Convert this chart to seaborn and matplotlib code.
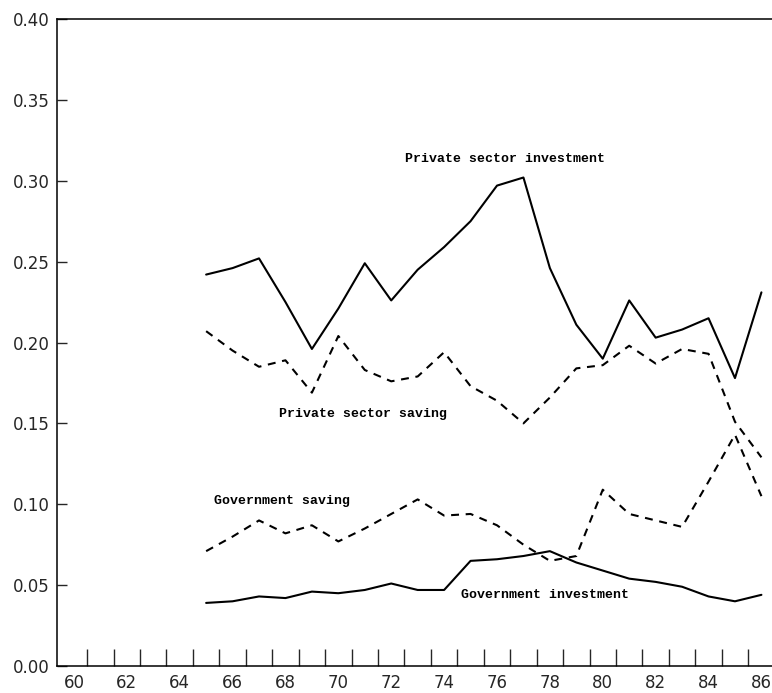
import numpy as np
import pandas as pd
import matplotlib
matplotlib.use("Agg")
import matplotlib.pyplot as plt
import seaborn as sns
from matplotlib.ticker import FixedLocator

# Shares of GDP, 1965-1986 (two-digit years)
years = list(range(65, 87))

private_investment = [0.242, 0.246, 0.252, 0.225, 0.196, 0.221, 0.249, 0.226, 0.245, 0.259, 0.275,
                      0.297, 0.302, 0.246, 0.211, 0.190, 0.226, 0.203, 0.208, 0.215, 0.178, 0.231]
private_saving = [0.207, 0.195, 0.185, 0.189, 0.169, 0.204, 0.183, 0.176, 0.179, 0.194, 0.173,
                  0.164, 0.150, 0.166, 0.184, 0.186, 0.198, 0.187, 0.196, 0.193, 0.151, 0.129]
government_saving = [0.071, 0.080, 0.090, 0.082, 0.087, 0.077, 0.085, 0.094, 0.103, 0.093, 0.094,
                     0.087, 0.075, 0.065, 0.068, 0.109, 0.094, 0.090, 0.086, 0.114, 0.143, 0.105]
government_investment = [0.039, 0.040, 0.043, 0.042, 0.046, 0.045, 0.047, 0.051, 0.047, 0.047, 0.065,
                         0.066, 0.068, 0.071, 0.064, 0.059, 0.054, 0.052, 0.049, 0.043, 0.040, 0.044]

series_names = ["Private sector investment", "Private sector saving",
                "Government saving", "Government investment"]

y_ticks = [0.00, 0.05, 0.10, 0.15, 0.20, 0.25, 0.30, 0.35, 0.40]
x_ticks = list(range(60, 87, 2))
x_bin_edges = [y + 0.5 for y in range(60, 86)]

sns.set_style("white")
plt.rcParams["font.family"] = ["DejaVu Sans"]

df = pd.DataFrame({
    "year": years * 4,
    "share": private_investment + private_saving + government_saving + government_investment,
    "series": sum([[n] * len(years) for n in series_names], []),
})

fig = plt.figure(figsize=(7.72, 6.93), dpi=100)
ax = fig.add_axes([57 / 772, 27 / 693, (772 - 57) / 772, (666 - 19) / 693])

dash_pattern = (3.8, 3.2)
sns.lineplot(
    data=df, x="year", y="share", style="series", hue="series",
    palette=["black"] * 4,
    dashes={"Private sector investment": "", "Private sector saving": dash_pattern,
            "Government saving": dash_pattern, "Government investment": ""},
    linewidth=1.5, legend=False, ax=ax,
)

ax.set_xlim(59.36, 86.4)
ax.set_ylim(0, 0.40)
ax.set_xlabel("")
ax.set_ylabel("")

ax.set_yticks(y_ticks)
ax.set_yticklabels([f"{v:.2f}" for v in y_ticks])
ax.set_xticks(x_ticks)
ax.set_xticklabels([str(v) for v in x_ticks])
ax.xaxis.set_minor_locator(FixedLocator(x_bin_edges))

ax.tick_params(axis="y", which="major", direction="in", length=7, width=1,
               labelsize=12, pad=5, left=True, right=False)
ax.tick_params(axis="x", which="major", length=0, labelsize=12, pad=6)
ax.tick_params(axis="x", which="minor", direction="in", length=12, width=1,
               bottom=True, top=False)

for side in ["left", "bottom", "top"]:
    ax.spines[side].set_visible(True)
    ax.spines[side].set_color("black")
    ax.spines[side].set_linewidth(1.1)
ax.spines["right"].set_visible(False)

label_font = dict(family=["Liberation Mono", "DejaVu Sans Mono"], fontsize=9.5,
                  fontweight="bold", color="black", ha="left", va="center")
ax.text(72.53, 0.3135, "Private sector investment", **label_font)
ax.text(67.74, 0.1558, "Private sector saving", **label_font)
ax.text(65.30, 0.1018, "Government saving", **label_font)
ax.text(74.62, 0.0436, "Government investment", **label_font)

fig.savefig("out.png", dpi=100)
